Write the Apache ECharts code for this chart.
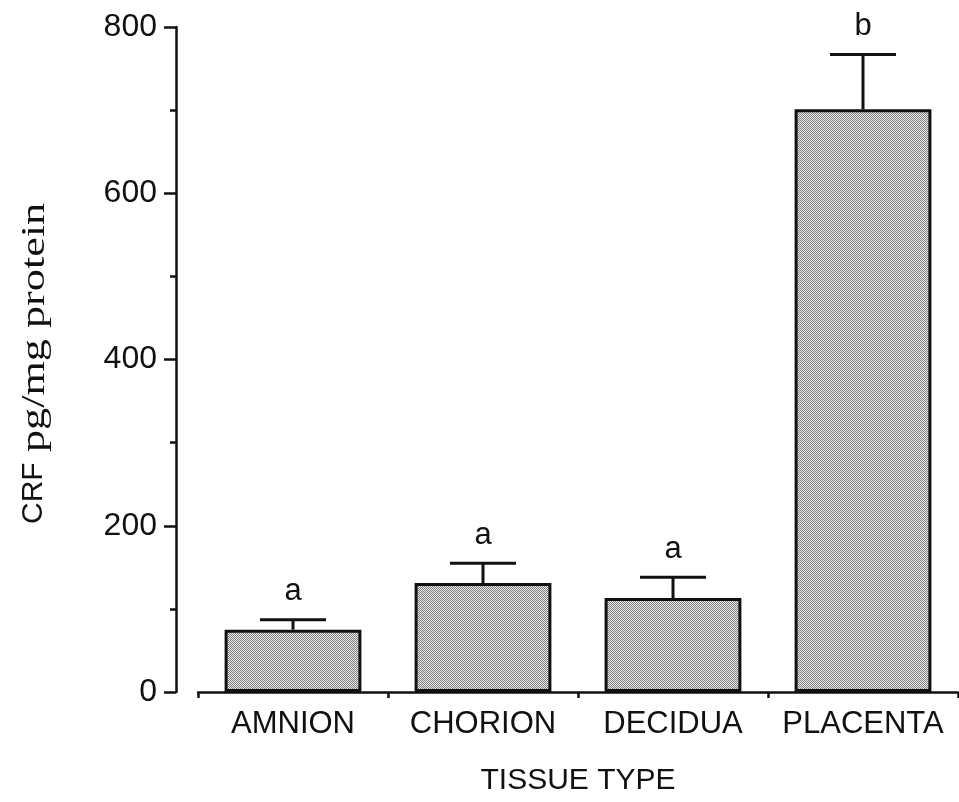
<!DOCTYPE html>
<html>
<head>
<meta charset="utf-8">
<script src="https://cdn.jsdelivr.net/npm/echarts@6/dist/echarts.min.js"></script>
<style>
  html, body { margin: 0; padding: 0; background: #fff; }
  #chart { width: 959px; height: 802px; }
</style>
</head>
<body>
<div id="chart"></div>
<script>
// CRF content by tissue type (mean + SEM), with significance letters
var categories = ['AMNION', 'CHORION', 'DECIDUA', 'PLACENTA'];
var meanValues = [75, 131, 113, 701];
var semValues = [12, 24, 25, 66];
var sigLetters = ['a', 'a', 'a', 'b'];
var yTicks = [0, 200, 400, 600, 800];

// stippled grey fill for the bars
function makeStipple() {
  var c = document.createElement('canvas');
  c.width = 2; c.height = 2;
  var g = c.getContext('2d');
  g.fillStyle = '#ececec'; g.fillRect(0, 0, 2, 2);
  g.fillStyle = '#7c7c7c';
  g.fillRect(0, 0, 1, 1);
  g.fillRect(1, 1, 1, 1);
  return c;
}

var chart = echarts.init(document.getElementById('chart'));
var sans = 'Liberation Sans, Arial, Helvetica, sans-serif';
var serif = 'Liberation Serif, Times New Roman, serif';

var errData = categories.map(function (c, i) {
  return [i, meanValues[i], meanValues[i] + semValues[i], sigLetters[i]];
});

chart.setOption({
  animation: false,
  backgroundColor: '#ffffff',
  grid: { left: 198, right: 1, top: 27, bottom: 110, containLabel: false },
  xAxis: {
    type: 'category',
    data: categories,
    axisLine: { lineStyle: { color: '#111', width: 2.5 } },
    axisTick: { show: true, interval: 0, length: 6, lineStyle: { color: '#111', width: 2.5 } },
    axisLabel: { interval: 0, color: '#111', fontSize: 31, fontFamily: sans, margin: 17 },
    name: 'TISSUE TYPE',
    nameLocation: 'middle',
    nameGap: 74,
    nameTextStyle: { color: '#111', fontSize: 30, fontFamily: sans }
  },
  yAxis: {
    type: 'value',
    min: yTicks[0],
    max: yTicks[yTicks.length - 1],
    interval: 200,
    offset: 22,
    splitLine: { show: false },
    axisLine: { show: true, lineStyle: { color: '#111', width: 2.5 } },
    axisTick: { show: true, length: 12, lineStyle: { color: '#111', width: 2.5 } },
    minorTick: { show: true, splitNumber: 2, length: 6, lineStyle: { color: '#111', width: 2.5 } },
    axisLabel: { color: '#111', fontSize: 32, fontFamily: sans, margin: 19 }
  },
  // rotated y-axis title: sans "CRF" followed by serif units
  graphic: [
    {
      type: 'group',
      x: 34,
      y: 524,
      rotation: Math.PI / 2,
      children: [
        {
          type: 'text',
          x: 0, y: 0,
          style: { text: 'CRF', font: '30px ' + sans, fill: '#111', align: 'left', verticalAlign: 'middle' }
        },
        {
          type: 'text',
          x: 72, y: 1,
          scaleX: 1.3,
          style: { text: 'pg/mg protein', font: '34px ' + serif, fill: '#111', align: 'left', verticalAlign: 'middle' }
        }
      ]
    }
  ],
  series: [
    {
      type: 'bar',
      data: meanValues,
      barWidth: '72%',
      itemStyle: {
        color: { image: makeStipple(), repeat: 'repeat' },
        borderColor: '#111',
        borderWidth: 3
      },
      z: 2
    },
    {
      type: 'custom',
      data: errData,
      encode: { x: 0, y: [1, 2] },
      z: 3,
      renderItem: function (params, api) {
        var base = api.coord([api.value(0), api.value(1)]);
        var top = api.coord([api.value(0), api.value(2)]);
        var half = 33;
        var style = { stroke: '#111', lineWidth: 3, fill: null };
        return {
          type: 'group',
          children: [
            { type: 'line', shape: { x1: top[0], y1: base[1], x2: top[0], y2: top[1] }, style: style },
            { type: 'line', shape: { x1: top[0] - half, y1: top[1], x2: top[0] + half, y2: top[1] }, style: style },
            {
              type: 'text',
              x: top[0],
              y: top[1] - 28,
              style: {
                text: api.value(3),
                fill: '#111',
                font: '31px ' + sans,
                align: 'center',
                verticalAlign: 'middle'
              }
            }
          ]
        };
      }
    }
  ]
});
</script>
</body>
</html>
